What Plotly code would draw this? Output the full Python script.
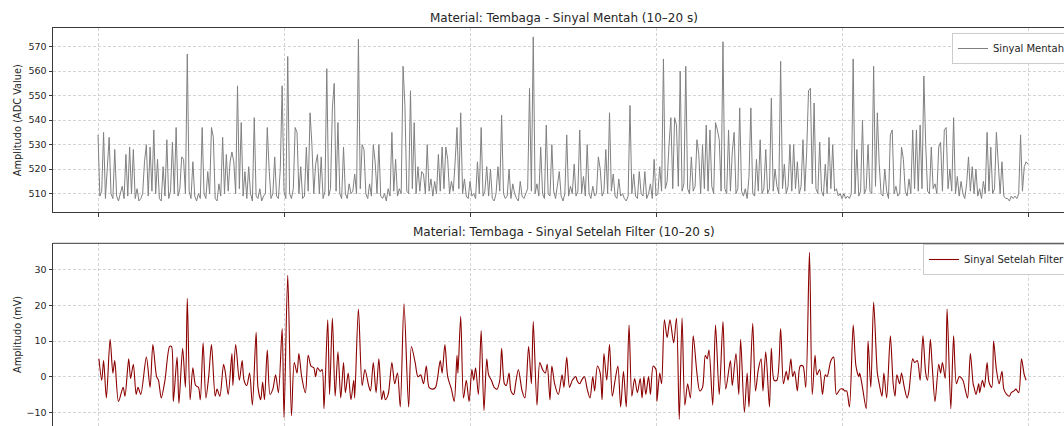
import numpy as np
import plotly.graph_objects as go

# ---- data -------------------------------------------------------------
# raw ADC samples, 10 s -> 20 s, one sample every 0.02 s
raw_start = 10.0
raw_step = 0.02
raw_adc = [
    534, 509, 511, 535, 508, 521, 533, 510, 508, 528, 509, 507, 510, 513, 508, 526, 509, 529, 510, 528,
    508, 512, 507, 508, 510, 523, 530, 509, 529, 511, 536, 510, 524, 508, 507, 521, 509, 532, 508, 511,
    531, 510, 537, 509, 512, 525, 524, 510, 567, 511, 508, 523, 509, 507, 510, 508, 537, 510, 508, 519,
    510, 537, 533, 508, 507, 514, 509, 533, 510, 526, 511, 523, 527, 523, 510, 554, 512, 539, 509, 519,
    508, 521, 510, 507, 541, 509, 508, 512, 507, 509, 510, 537, 520, 508, 510, 525, 509, 508, 520, 554,
    511, 508, 566, 510, 508, 512, 537, 535, 510, 521, 508, 509, 529, 511, 543, 530, 510, 522, 526, 510,
    525, 508, 511, 561, 509, 512, 545, 555, 511, 539, 510, 508, 529, 510, 508, 514, 510, 511, 518, 510,
    573, 512, 530, 528, 510, 508, 514, 509, 530, 523, 510, 530, 509, 508, 510, 507, 512, 509, 535, 511,
    524, 509, 512, 510, 562, 546, 511, 510, 552, 512, 539, 510, 521, 511, 519, 518, 510, 530, 511, 516,
    509, 515, 510, 526, 511, 529, 512, 529, 524, 510, 515, 511, 523, 537, 512, 543, 510, 516, 509, 508,
    515, 509, 510, 508, 523, 510, 537, 509, 511, 521, 509, 520, 508, 507, 510, 521, 511, 542, 510, 508,
    509, 520, 508, 514, 510, 508, 507, 515, 509, 508, 510, 512, 553, 511, 574, 510, 514, 509, 529, 510,
    508, 538, 510, 509, 530, 511, 508, 514, 519, 509, 507, 510, 534, 509, 513, 510, 522, 509, 511, 536,
    510, 517, 509, 530, 510, 508, 513, 509, 510, 525, 520, 509, 511, 528, 510, 543, 511, 518, 509, 508,
    516, 509, 510, 508, 507, 509, 546, 510, 518, 509, 508, 519, 510, 509, 519, 508, 510, 514, 508, 524,
    509, 510, 521, 511, 565, 512, 515, 530, 541, 512, 541, 538, 513, 560, 511, 514, 562, 512, 510, 525,
    511, 513, 532, 526, 510, 530, 512, 538, 511, 536, 513, 510, 539, 536, 532, 511, 572, 512, 510, 536,
    511, 527, 535, 510, 512, 545, 511, 509, 512, 508, 517, 545, 510, 509, 524, 511, 532, 510, 512, 528,
    510, 512, 549, 511, 520, 513, 510, 564, 512, 522, 510, 513, 530, 511, 530, 512, 523, 510, 513, 532,
    511, 527, 552, 553, 514, 547, 512, 510, 531, 511, 509, 522, 510, 533, 512, 530, 511, 512, 509, 510,
    508, 510, 508, 509, 508, 510, 565, 510, 528, 509, 511, 540, 510, 512, 530, 511, 510, 562, 513, 543,
    522, 510, 509, 520, 511, 508, 534, 536, 510, 513, 509, 510, 529, 524, 511, 509, 516, 510, 536, 512,
    536, 511, 538, 512, 558, 530, 511, 510, 529, 512, 514, 510, 529, 531, 511, 536, 537, 512, 520, 511,
    541, 510, 517, 509, 515, 510, 508, 514, 525, 511, 521, 510, 520, 509, 512, 508, 515, 510, 535, 511,
    529, 510, 512, 535, 522, 510, 523, 509, 508, 508, 507, 509, 508, 509, 508, 510, 534, 511, 521, 523,
    522,
]

# filtered signal (mV): turning points of the band-passed trace
filt_time = [
    10.01, 10.04, 10.06, 10.09, 10.13, 10.16, 10.18, 10.22, 10.27, 10.29,
    10.33, 10.35, 10.38, 10.41, 10.43, 10.46, 10.52, 10.56, 10.59, 10.63,
    10.65, 10.68, 10.72, 10.77, 10.79, 10.81, 10.85, 10.87, 10.91, 10.94,
    10.96, 10.99, 11.02, 11.05, 11.08, 11.10, 11.13, 11.16, 11.19, 11.22,
    11.26, 11.28, 11.31, 11.35, 11.37, 11.40, 11.44, 11.45, 11.48, 11.52,
    11.55, 11.57, 11.60, 11.63, 11.66, 11.70, 11.72, 11.75, 11.77, 11.79,
    11.82, 11.85, 11.88, 11.91, 11.94, 11.98, 12.00, 12.04, 12.08, 12.11,
    12.14, 12.16, 12.19, 12.23, 12.26, 12.29, 12.32, 12.34, 12.36, 12.39,
    12.41, 12.43, 12.47, 12.49, 12.52, 12.55, 12.58, 12.61, 12.64, 12.66,
    12.69, 12.72, 12.75, 12.76, 12.80, 12.84, 12.87, 12.91, 12.93, 12.96,
    12.99, 13.02, 13.05, 13.07, 13.09, 13.12, 13.16, 13.19, 13.22, 13.25,
    13.29, 13.34, 13.37, 13.41, 13.44, 13.47, 13.50, 13.53, 13.56, 13.60,
    13.63, 13.68, 13.70, 13.73, 13.76, 13.80, 13.83, 13.86, 13.87, 13.90,
    13.93, 13.96, 13.99, 14.02, 14.04, 14.06, 14.09, 14.12, 14.15, 14.18,
    14.20, 14.23, 14.26, 14.29, 14.32, 14.34, 14.37, 14.39, 14.42, 14.44,
    14.47, 14.49, 14.52, 14.56, 14.59, 14.63, 14.66, 14.68, 14.72, 14.75,
    14.78, 14.81, 14.83, 14.86, 14.88, 14.91, 14.95, 14.99, 15.01, 15.04,
    15.07, 15.10, 15.14, 15.15, 15.18, 15.20, 15.23, 15.26, 15.29, 15.32,
    15.34, 15.37, 15.40, 15.42, 15.44, 15.47, 15.50, 15.53, 15.56, 15.59,
    15.62, 15.65, 15.68, 15.71, 15.74, 15.77, 15.80, 15.83, 15.85, 15.87,
    15.89, 15.92, 15.94, 15.97, 16.00, 16.01, 16.04, 16.06, 16.09, 16.12,
    16.15, 16.19, 16.22, 16.25, 16.28, 16.31, 16.34, 16.37, 16.40, 16.44,
    16.47, 16.50, 16.53, 16.55, 16.57, 16.61, 16.64, 16.68, 16.72, 16.75,
    16.80, 16.82, 16.86, 16.89, 16.91, 16.95, 16.98, 17.00, 17.04, 17.07,
    17.10, 17.13, 17.15, 17.18, 17.22, 17.24, 17.27, 17.30, 17.34, 17.37,
    17.40, 17.42, 17.45, 17.47, 17.49, 17.52, 17.55, 17.58, 17.61, 17.65,
    17.68, 17.71, 17.73, 17.76, 17.79, 17.82, 17.84, 17.88, 17.91, 17.94,
    17.98, 18.01, 18.03, 18.05, 18.08, 18.12, 18.15, 18.18, 18.19, 18.22,
    18.26, 18.28, 18.31, 18.34, 18.38, 18.40, 18.43, 18.45, 18.48, 18.52,
    18.55, 18.57, 18.59, 18.62, 18.64, 18.67, 18.70, 18.72, 18.76, 18.78,
    18.81, 18.84, 18.87, 18.90, 18.92, 18.95, 18.97, 19.00, 19.04, 19.06,
    19.08, 19.11, 19.13, 19.17, 19.20, 19.23, 19.26, 19.30, 19.32, 19.35,
    19.38, 19.41, 19.42, 19.44, 19.47, 19.48, 19.51, 19.53, 19.56, 19.58,
    19.61, 19.63, 19.66, 19.69, 19.72, 19.74, 19.77, 19.80, 19.82, 19.85,
    19.87, 19.90, 19.93, 19.96, 19.98,
]
filt_mv = [
    5, -1, 4.5, -6, 10.5, 1, 4.5, -7, -3, -5.5,
    5, -0.5, 3.5, -5, -3, -5, 5.5, -3, 9, 0,
    -1, -6, -1, 8.5, 8.5, -7, 5.5, -7.5, 8, -3,
    22, -6.5, 2.5, -2.5, -3, -6.5, 9.5, -6, 0, 9,
    -5.5, -3.5, -5.5, 3.5, 1, -5, 6.5, -2.5, 9, -1,
    4.5, -1, -2.5, 1, -8, 12.5, -3, -6.5, -1.5, -6.5,
    7.5, -5, -3.5, 0.5, -4.5, 13.5, -11.5, 28.5, -11, 4,
    1, 6.5, 0, -4.5, 6, 3, 2.5, 0, 2.5, 1.5,
    2, -9, 16, -5, 16.5, -5.5, 7, -6, 4, -4.5,
    1, -6.5, -1, -6, 19, -2.5, 2, -2.5, -4, 4,
    -4.5, 5, -6.5, -4, -6.5, -5, 4, -2, 1, -8.5,
    20.5, -8.5, 8.5, 4, 0, 0.5, -2, 3, -3, -3.5,
    -3, 4.5, 1, 9, 0, -3.5, -7, 6, 1, 17,
    -6, -1, -7, 2, -1, 2.5, -5, 13, -9.5, 5,
    0.5, -1, -3, -3.5, -1, 8, -2, -2.5, 1, -4,
    -5, -2, 2, -4, -6, 8.5, -2, 15.5, -8, 4,
    2, 1, 3.5, -6.5, 3, -2, -5, 0.5, -3, 5.5,
    -3, -1, 0, -1, -2, -1, 0, -3.5, -6, 0,
    -4, 3, 1, -6.5, 6.5, -1, 9, -5.5, -1, 3,
    -8.5, 1.5, -8.5, 14.5, -5.5, -0.5, -4.5, -0.5, -6, 0,
    -5, 0, -5, 3, 2, -7, 1, -2, 16, 11,
    16, 9.5, 16.5, -12, 16.5, -8, -2, -6, 11.5, 1,
    -4, -3, 6, 5, 7.5, -8, 14.5, -5, 15.5, -3.5,
    4.5, -2.5, 6.5, -5, 10.5, -10, 1, -8.5, 15, -4,
    2, 5, -4, 7, -8.5, 8, -1, -1, 13.5, -2,
    1.5, -1, 5, 0, 1.5, -4, 3, 3, -3, 35,
    -5, 6, 0.5, 2, -5, 0.5, 0, 4.5, 5.5, -5,
    -3.5, -3.5, -4, -4, -8.5, 14.5, 3, 0, 1, -3,
    -9, 10, -3, 21, 1, -2, -5.5, 1, -6, 11.5,
    -2, -5.5, 0.5, -2, 1, -3, -6, -4, 5, 4,
    4.5, -1, 11.5, 1, -1, 10.5, 3, -7, 3.5, 1,
    4, -0.5, 19, -9, 11.5, -2, 0, -1, -3, -6,
    6.5, -2, -3, -5, -2, -4.5, -1, -3, 4, -1.5,
    -3, 10, 2, -2, 1.5, -3.5, -5, -5.5, -4.5, -4,
    -3.5, -4.5, 5, 0.5, -1,
]

raw_time = raw_start + raw_step * np.arange(len(raw_adc))

# ---- page geometry (px) ----------------------------------------------
W, H = 1064, 426
PX_LEFT = 53            # left spine of both panels
TOP1, BOT1 = 28.3, 212  # upper panel
TOP2 = 243.3            # lower panel (runs off the bottom edge)

x_range = [9.516, 20.387]
y1_range = [502.5, 577.5]
y2_range = [-13.87, 37.5]

FONT = "DejaVu Sans"
GRID = "#d4d4d4"
SPINE = "#3a3a3a"

fig = go.Figure()
fig.add_trace(go.Scatter(
    x=raw_time, y=raw_adc, mode="lines", name="Sinyal Mentah",
    line=dict(color="#808080", width=1), xaxis="x", yaxis="y", legend="legend",
))
fig.add_trace(go.Scatter(
    x=filt_time, y=filt_mv, mode="lines", name="Sinyal Setelah Filter",
    line=dict(color="#8b0000", width=1.1, shape="spline", smoothing=0.8),
    xaxis="x2", yaxis="y2", legend="legend2",
))

xdom = [PX_LEFT / W, 1.0]
common_x = dict(
    range=x_range, tick0=10, dtick=2, showgrid=True, gridcolor=GRID,
    griddash="3px,2px", gridwidth=0.8, zeroline=False, showticklabels=False,
)
common_y = dict(
    showgrid=True, gridcolor=GRID, griddash="3px,2px", gridwidth=0.8,
    zeroline=False, showline=True, linecolor=SPINE, linewidth=1,
    ticks="outside", ticklen=3.5, tickwidth=0.8, tickcolor=SPINE,
    tickfont=dict(family=FONT, size=9.5, color="#262626"),
)

legend_style = dict(xanchor="left", yanchor="top", bgcolor="white",
                    bordercolor="#cccccc", borderwidth=1,
                    font=dict(family=FONT, size=10, color="#262626"))

fig.update_layout(
    width=W, height=H,
    margin=dict(l=0, r=0, t=0, b=0, autoexpand=False),
    paper_bgcolor="white", plot_bgcolor="white",
    showlegend=True,
    xaxis=dict(domain=xdom, anchor="y", showline=True, mirror=True,
               linecolor=SPINE, linewidth=1, ticks="outside", ticklen=3.5,
               tickwidth=0.8, tickcolor=SPINE, **common_x),
    yaxis=dict(domain=[1 - BOT1 / H, 1 - TOP1 / H], anchor="x", range=y1_range,
               tickvals=[510, 520, 530, 540, 550, 560, 570], **common_y),
    xaxis2=dict(domain=xdom, anchor="y2", showline=False, ticks="", **common_x),
    yaxis2=dict(domain=[0, 1 - TOP2 / H], anchor="x2", range=y2_range,
                tickvals=[-10, 0, 10, 20, 30], **common_y),
    legend=dict(x=952 / W, y=1 - 33 / H, **legend_style),
    legend2=dict(x=923 / W, y=1 - 244 / H, **legend_style),
)

# top spine of the lower panel
fig.add_shape(type="line", xref="x2 domain", yref="y2 domain",
              x0=0, x1=1, y0=1, y1=1, line=dict(color=SPINE, width=1))

mid_x = (PX_LEFT + 1075) / 2 / W
title_font = dict(family=FONT, size=12, color="#262626")
label_font = dict(family=FONT, size=9.8, color="#262626")
fig.add_annotation(text="Material: Tembaga - Sinyal Mentah (10\u201320 s)",
                   xref="paper", yref="paper", x=mid_x, y=1 - 18 / H,
                   xanchor="center", yanchor="middle", showarrow=False, font=title_font)
fig.add_annotation(text="Material: Tembaga - Sinyal Setelah Filter (10\u201320 s)",
                   xref="paper", yref="paper", x=mid_x, y=1 - 232 / H,
                   xanchor="center", yanchor="middle", showarrow=False, font=title_font)
fig.add_annotation(text="Amplitudo (ADC Value)", textangle=-90,
                   xref="paper", yref="paper", x=17 / W, y=1 - (TOP1 + BOT1) / 2 / H,
                   xanchor="center", yanchor="middle", showarrow=False, font=label_font)
fig.add_annotation(text="Amplitudo (mV)", textangle=-90,
                   xref="paper", yref="paper", x=17 / W, y=1 - 335 / H,
                   xanchor="center", yanchor="middle", showarrow=False, font=label_font)

fig.write_html("out.html")
